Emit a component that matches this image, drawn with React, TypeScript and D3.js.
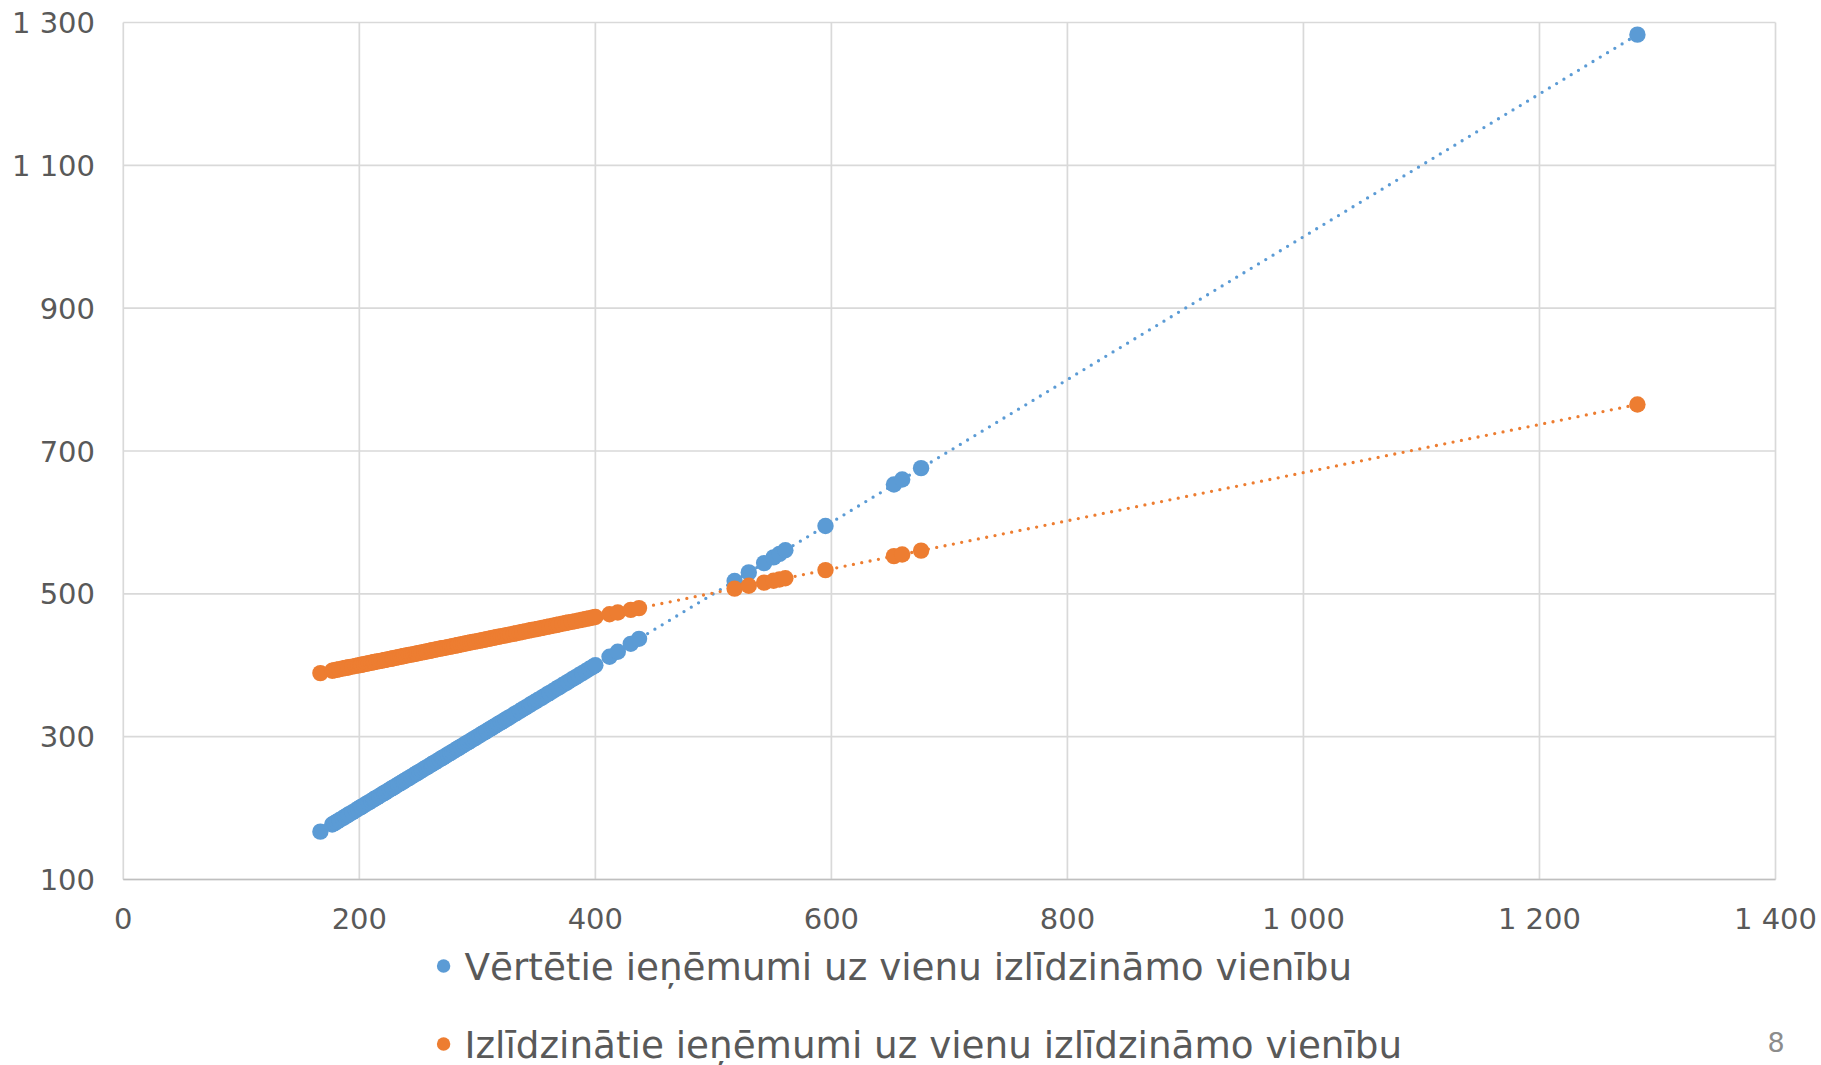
import React, { useEffect } from "react";
import * as d3 from "d3";

// Vērtētie ieņēmumi (x) – the blue series plots them against themselves
const vertetie = [
  167, 177, 179, 181, 183, 186, 188, 190, 191, 194, 197, 199, 201, 202, 204, 206, 208, 210, 212, 213,
  215, 217, 219, 221, 222, 224, 226, 228, 229, 231, 233, 235, 237, 238, 240, 242, 244, 246, 248, 249,
  251, 253, 255, 257, 259, 261, 262, 264, 266, 268, 270, 271, 273, 275, 277, 279, 281, 283, 284, 286,
  288, 290, 292, 294, 296, 298, 300, 302, 304, 306, 308, 310, 312, 314, 316, 318, 320, 322, 324, 326,
  328, 331, 333, 336, 338, 341, 344, 346, 349, 351, 354, 356, 359, 361, 364, 367, 369, 372, 375, 377,
  380, 383, 386, 389, 392, 395, 398, 400, 412, 419, 430, 437, 518, 530, 543, 551, 556, 561, 595, 653,
  660, 676, 1283,
];

// Izlīdzinātie ieņēmumi, same order as vertetie
const izlidzinatie = [
  389.0, 392.3, 393.0, 393.7, 394.4, 395.4, 396.1, 396.7, 397.1, 398.1, 399.1, 399.8, 400.4, 400.8, 401.5, 402.1, 402.8, 403.5, 404.1, 404.5,
  405.2, 405.8, 406.5, 407.2, 407.5, 408.2, 408.9, 409.5, 409.9, 410.5, 411.2, 411.9, 412.6, 412.9, 413.6, 414.3, 414.9, 415.6, 416.3, 416.6,
  417.3, 418.0, 418.6, 419.3, 420.0, 420.7, 421.0, 421.7, 422.3, 423.0, 423.7, 424.0, 424.7, 425.4, 426.1, 426.7, 427.4, 428.1, 428.4, 429.1,
  429.8, 430.4, 431.1, 431.8, 432.5, 433.1, 433.8, 434.5, 435.1, 435.8, 436.5, 437.2, 437.8, 438.5, 439.2, 439.9, 440.5, 441.2, 441.9, 442.6,
  443.2, 444.2, 444.9, 445.9, 446.6, 447.6, 448.6, 449.3, 450.3, 451.0, 452.0, 452.7, 453.7, 454.4, 455.4, 456.4, 457.1, 458.1, 459.1, 459.8,
  460.8, 461.8, 462.8, 463.8, 464.8, 465.8, 466.8, 467.5, 471.5, 473.9, 477.6, 480.0, 507.3, 511.3, 515.7, 518.4, 520.1, 521.8, 533.2, 552.8,
  555.1, 560.5, 765.1,
];

const xTicks = [0, 200, 400, 600, 800, 1000, 1200, 1400];
const yTicks = [100, 300, 500, 700, 900, 1100, 1300];
const seriesNames = [
  "Vērtētie ieņēmumi uz vienu izlīdzināmo vienību",
  "Izlīdzinātie ieņēmumi uz vienu izlīdzināmo vienību",
];
const seriesColors = ["#5B9BD5", "#ED7D31"];
const pageNumber = "8";

const W = 1821;
const H = 1065;
const plot = { left: 123.3, right: 1775.5, top: 22.5, bottom: 879.5 };
const font = "'DejaVu Sans', Verdana, sans-serif";

const locale = d3.formatLocale({ decimal: ",", thousands: " ", grouping: [3], currency: ["", ""] });
const fmt = locale.format(",d");

// least squares trendline, like Excel's linear trendline
function trend(xs: number[], ys: number[]) {
  const mx = d3.mean(xs) as number;
  const my = d3.mean(ys) as number;
  let sxy = 0;
  let sxx = 0;
  xs.forEach((x, i) => {
    sxy += (x - mx) * (ys[i] - my);
    sxx += (x - mx) * (x - mx);
  });
  const b = sxy / sxx;
  const a = my - b * mx;
  const [x0, x1] = d3.extent(xs) as [number, number];
  return [
    [x0, a + b * x0],
    [x1, a + b * x1],
  ];
}

export default function App() {
  useEffect(() => {
    document.body.style.margin = "0";
  }, []);

  const x = d3.scaleLinear().domain([0, 1400]).range([plot.left, plot.right]);
  const y = d3.scaleLinear().domain([100, 1300]).range([plot.bottom, plot.top]);
  const line = d3
    .line<number[]>()
    .x((d) => x(d[0]))
    .y((d) => y(d[1]));

  const series = [
    vertetie.map((v) => [v, v]),
    vertetie.map((v, i) => [v, izlidzinatie[i]]),
  ];
  const trends = [trend(vertetie, vertetie), trend(vertetie, izlidzinatie)];

  return (
    <svg width={W} height={H} style={{ display: "block", background: "#fff" }} fontFamily={font}>
      {/* grid */}
      {xTicks.map((t) => (
        <line key={"gx" + t} x1={x(t)} x2={x(t)} y1={plot.top} y2={plot.bottom} stroke="#D9D9D9" strokeWidth={1.7} />
      ))}
      {yTicks.map((t) => (
        <line key={"gy" + t} x1={plot.left} x2={plot.right} y1={y(t)} y2={y(t)} stroke="#D9D9D9" strokeWidth={1.7} />
      ))}
      <line x1={plot.left} x2={plot.right} y1={plot.bottom} y2={plot.bottom} stroke="#BFBFBF" strokeWidth={1.7} />

      {/* tick labels */}
      {xTicks.map((t) => (
        <text key={"tx" + t} x={x(t)} y={929} textAnchor="middle" fontSize={29} fill="#595959">
          {fmt(t)}
        </text>
      ))}
      {yTicks.map((t) => (
        <text key={"ty" + t} x={95} y={y(t) + 10.5} textAnchor="end" fontSize={29} fill="#595959">
          {fmt(t)}
        </text>
      ))}

      {/* trendlines */}
      {trends.map((tr, i) => (
        <path
          key={"tr" + i}
          d={line(tr) || ""}
          fill="none"
          stroke={seriesColors[i]}
          strokeWidth={3.3}
          strokeLinecap="round"
          strokeDasharray="0 8.5"
        />
      ))}

      {/* markers */}
      {series.map((pts, i) => (
        <g key={"s" + i} fill={seriesColors[i]}>
          {pts.map((p, j) => (
            <circle key={j} cx={x(p[0])} cy={y(p[1])} r={8.2} />
          ))}
        </g>
      ))}

      {/* legend */}
      {seriesNames.map((name, i) => (
        <g key={"lg" + i} transform={`translate(0,${966 + i * 78})`}>
          <circle cx={443.6} cy={0} r={6.7} fill={seriesColors[i]} />
          <text x={464.5} y={13.5} fontSize={37.3} fill="#595959">
            {name}
          </text>
        </g>
      ))}

      <text x={1776} y={1052} textAnchor="middle" fontSize={27} fill="#8C8C8C">
        {pageNumber}
      </text>
    </svg>
  );
}
